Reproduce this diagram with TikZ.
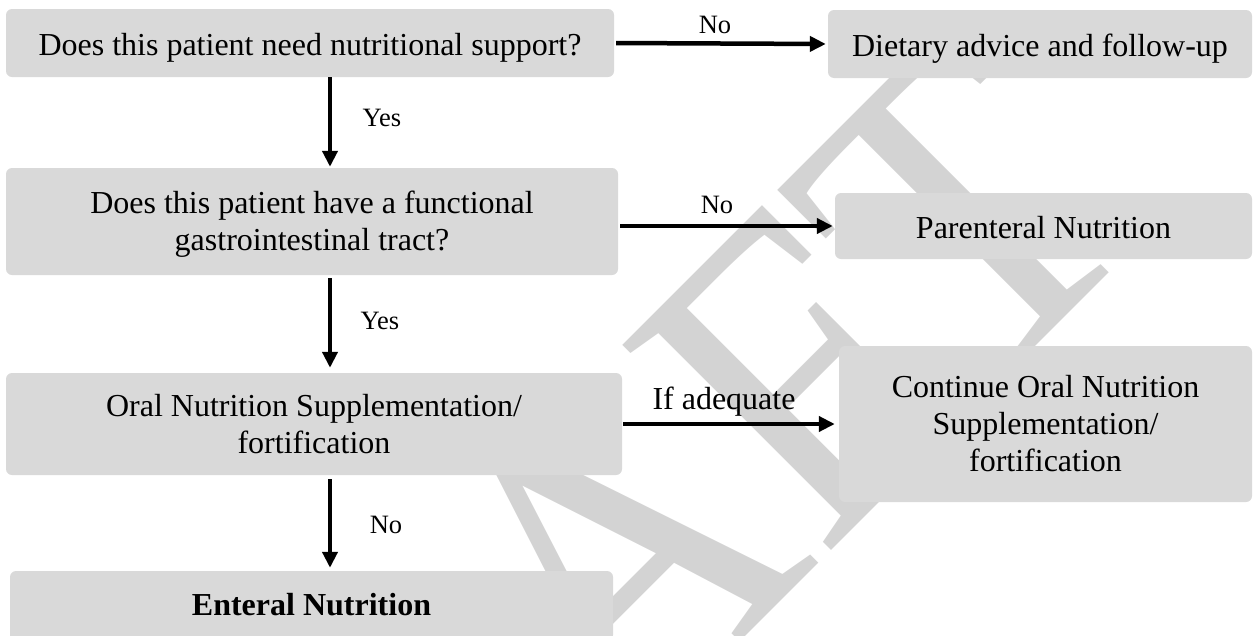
\documentclass[tikz,border=0pt]{standalone}
\usepackage{fontspec}
\usepackage{graphicx}
\setmainfont{Liberation Serif}
\usetikzlibrary{arrows.meta}
\definecolor{boxgray}{HTML}{D9D9D9}
\definecolor{wmgray}{HTML}{D3D3D3}
\begin{document}
\begin{tikzpicture}[x=1pt,y=-1pt,
  box/.style={fill=boxgray, rounded corners=6pt, align=center, inner sep=0pt,
    font=\fontsize{32}{37}\selectfont},
  onebox/.style={box, text height=24pt, text depth=0pt},
  lbl/.style={font=\fontsize{26.5}{30}\selectfont, anchor=base, inner sep=0pt},
  arr/.style={line width=4.5pt, -{Triangle[length=16pt,width=15pt]}},
  wm/.style={text=wmgray, font=\fontsize{447}{447}\selectfont, inner sep=0pt,
    rotate=45, anchor=base east}
]
\useasboundingbox (0,0) rectangle (1255,635);
\clip (0,0) rectangle (1255,635);
% watermark
\node[wm] (wmark) at (1153.5,228.5) {\scalebox{0.9}[1]{DRAFT}};
% boxes
\node[onebox, minimum width=608pt, minimum height=68pt] (q1) at (310,43)
  {Does this patient need nutritional support?};
\node[onebox, minimum width=424pt, minimum height=68pt] (diet) at (1040,44)
  {Dietary advice and follow-up};
\node[box, minimum width=612pt, minimum height=107pt] (q2) at (312,221.5)
  {\rule{0pt}{27pt}Does this patient have a functional\\gastrointestinal tract?};
\node[onebox, minimum width=417pt, minimum height=66pt] (par) at (1043.5,226)
  {Parenteral Nutrition};
\node[box, minimum width=616pt, minimum height=102pt] (ons) at (314,424)
  {Oral Nutrition Supplementation/\\fortification};
\node[box, minimum width=413pt, minimum height=156pt] (cont) at (1045.5,424)
  {Continue Oral Nutrition\\Supplementation/\\fortification};
\node[box, text height=18pt, text depth=0pt, minimum width=603pt, minimum height=70pt] (ent) at (311.5,606)
  {\bfseries Enteral Nutrition};
% connectors
\draw[arr, shorten <=2pt, shorten >=2pt] (q1.east) -- (diet.west);
\draw[arr, shorten <=2pt, shorten >=2pt] (par.west -| q2.east) -- (par.west);
\draw[arr, shorten <=1pt, shorten >=4pt] (ons.east) -- (cont.west);
\draw[arr, shorten >=1pt] ([xshift=20pt]q1.south) -- ([xshift=20pt]q1.south |- q2.north);
\draw[arr, shorten <=3pt, shorten >=5pt] ([xshift=18pt]q2.south) -- ([xshift=18pt]q2.south |- ons.north);
\draw[arr, shorten <=4pt, shorten >=3pt] ([xshift=16pt]ons.south) -- ([xshift=16pt]ons.south |- ent.north);
% labels
\node[lbl] (l1) at (715,33) {No};
\node[lbl] (l2) at (382,126) {Yes};
\node[lbl] (l3) at (717,213) {No};
\node[lbl] (l4) at (380,329) {Yes};
\node[lbl, font=\fontsize{32}{37}\selectfont] (l5) at (724,409) {If adequate};
\node[lbl] (l6) at (386,533) {No};
\end{tikzpicture}
\end{document}
